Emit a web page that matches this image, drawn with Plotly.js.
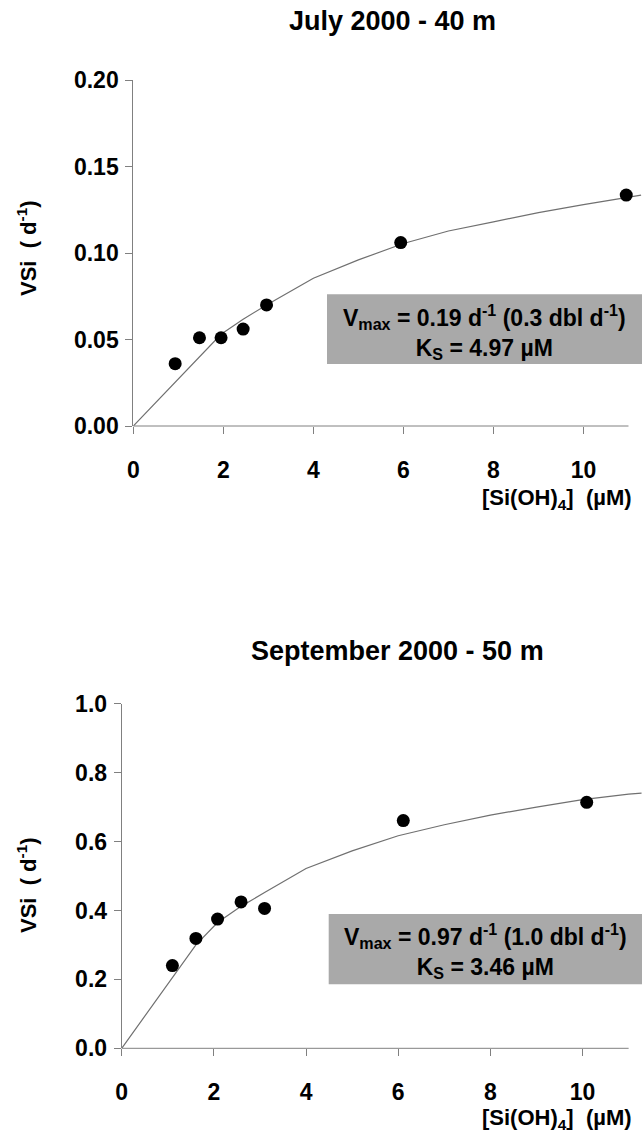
<!DOCTYPE html>
<html>
<head>
<meta charset="utf-8">
<script src="https://cdn.plot.ly/plotly-3.0.1.min.js"></script>
<style>html,body{margin:0;padding:0;background:#fff;}#chart{width:642px;height:1139px;}</style>
</head>
<body>
<div id="chart"></div>
<script>
// ---- Data ----
const julyTitle = "July 2000 - 40 m";
const septTitle = "September 2000 - 50 m";

const julySi   = [0.93, 1.47, 1.95, 2.44, 2.96, 5.94, 10.95];
const julyV    = [0.036, 0.051, 0.051, 0.056, 0.070, 0.106, 0.1335];
const julyFitSi = [0, 1.95, 2.44, 2.96, 4, 5, 6, 7, 8, 9, 10, 11, 11.28];
const julyFitV  = [0, 0.053, 0.0617, 0.0700, 0.0854, 0.096, 0.1055, 0.1127, 0.118, 0.1233, 0.128, 0.132, 0.1335];

const septSi   = [1.10, 1.61, 2.08, 2.59, 3.10, 6.11, 10.09];
const septV    = [0.240, 0.319, 0.375, 0.425, 0.406, 0.661, 0.714];
const septFitSi = [0, 1.61, 2.08, 2.59, 3.10, 4, 5, 6, 7, 8, 9, 10, 11, 11.28];
const septFitV  = [0, 0.300, 0.365, 0.412, 0.452, 0.522, 0.573, 0.617, 0.649, 0.677, 0.700, 0.722, 0.738, 0.741];

const julyTicksY = [0, 0.05, 0.10, 0.15, 0.20];
const septTicksY = [0, 0.2, 0.4, 0.6, 0.8, 1.0];
const ticksX = [0, 2, 4, 6, 8, 10];

const yTitle = "VSi  ( d<sup>-1</sup>)";
const xTitle = "[Si(OH)<sub>4</sub>]  (µM)";
const julyBox = "V<sub>max</sub> = 0.19 d<sup>-1</sup> (0.3 dbl d<sup>-1</sup>)<br>K<sub>S</sub> = 4.97 µM";
const septBox = "V<sub>max</sub> = 0.97 d<sup>-1</sup> (1.0 dbl d<sup>-1</sup>)<br>K<sub>S</sub> = 3.46 µM";

// ---- Layout geometry (pixels in a 642x1139 page) ----
const W = 642, H = 1139;
const FONT = '"Liberation Sans", Arial, Helvetica, sans-serif';
const px = v => v / W;
const py = v => 1 - v / H;

const axColor = '#808080';
const lineColor = '#707070';
const boxColor = '#a9a9a9';

function xAxis(anchor, left, xmax) {
  return {
    anchor: anchor, domain: [px(left), 1], range: [0, xmax],
    showline: false, showgrid: false, zeroline: false,
    ticks: 'outside', ticklen: 7, tickwidth: 1, tickcolor: axColor,
    tickvals: ticksX, ticklabelstandoff: 16,
    tickfont: {family: FONT, size: 23, color: '#000', weight: 'bold'}
  };
}
function yAxis(anchor, top, bottom, range, tv, fmt) {
  return {
    anchor: anchor, domain: [py(bottom), py(top)], range: range,
    showline: true, linecolor: axColor, linewidth: 1,
    showgrid: false, zeroline: false,
    ticks: 'outside', ticklen: 7, tickwidth: 1, tickcolor: axColor,
    tickvals: tv, tickformat: fmt, ticklabelstandoff: 2,
    tickfont: {family: FONT, size: 23, color: '#000', weight: 'bold'}
  };
}

// top panel
const T = {left: 133.3, top: 80, bottom: 426, xmax: 11.3, xend: 11};
// bottom panel
const B = {left: 121.7, top: 703.8, bottom: 1048.3, xmax: 11.29, xend: 11};

const traces = [
  {x: julyFitSi, y: julyFitV, xaxis: 'x', yaxis: 'y', mode: 'lines',
   line: {color: lineColor, width: 1.2}, hoverinfo: 'skip'},
  {x: julySi, y: julyV, xaxis: 'x', yaxis: 'y', mode: 'markers', cliponaxis: false,
   marker: {color: '#000', size: 13}},
  {x: septFitSi, y: septFitV, xaxis: 'x2', yaxis: 'y2', mode: 'lines',
   line: {color: lineColor, width: 1.2}, hoverinfo: 'skip'},
  {x: septSi, y: septV, xaxis: 'x2', yaxis: 'y2', mode: 'markers', cliponaxis: false,
   marker: {color: '#000', size: 13}}
];

function xLineShape(P) {
  const d0 = px(P.left), d1 = 1;
  const xe = d0 + (d1 - d0) * P.xend / P.xmax;
  return {type: 'line', xref: 'paper', yref: 'paper', x0: d0, x1: xe,
          y0: py(P.bottom), y1: py(P.bottom), line: {color: axColor, width: 1}, layer: 'above'};
}

const annFont = {family: FONT, size: 22, color: '#000', weight: 'bold'};
const boxFont = {family: FONT, size: 23, color: '#000', weight: 'bold'};

const layout = {
  width: W, height: H,
  margin: {l: 0, r: 0, t: 0, b: 0},
  paper_bgcolor: '#fff', plot_bgcolor: 'rgba(0,0,0,0)',
  showlegend: false,
  xaxis: xAxis('y', T.left, T.xmax),
  yaxis: yAxis('x', T.top, T.bottom, [0, 0.2], julyTicksY, '.2f'),
  xaxis2: xAxis('y2', B.left, B.xmax),
  yaxis2: yAxis('x2', B.top, B.bottom, [0, 1], septTicksY, '.1f'),
  shapes: [
    xLineShape(T), xLineShape(B),
    {type: 'rect', xref: 'paper', yref: 'paper', x0: px(327), x1: 1, y0: py(364), y1: py(294.3),
     fillcolor: boxColor, line: {width: 0}, layer: 'below'},
    {type: 'rect', xref: 'paper', yref: 'paper', x0: px(328.7), x1: 1, y0: py(984.3), y1: py(914),
     fillcolor: boxColor, line: {width: 0}, layer: 'below'}
  ],
  annotations: [
    {text: julyTitle, xref: 'paper', yref: 'paper', x: px(392), y: py(21), xanchor: 'center', yanchor: 'middle',
     showarrow: false, font: {family: FONT, size: 27, color: '#000', weight: 'bold'}},
    {text: septTitle, xref: 'paper', yref: 'paper', x: px(397), y: py(651), xanchor: 'center', yanchor: 'middle',
     showarrow: false, font: {family: FONT, size: 27, color: '#000', weight: 'bold'}},
    {text: yTitle, xref: 'paper', yref: 'paper', x: px(27), y: py(248), xanchor: 'center', yanchor: 'middle',
     textangle: -90, showarrow: false, font: annFont},
    {text: yTitle, xref: 'paper', yref: 'paper', x: px(27), y: py(885), xanchor: 'center', yanchor: 'middle',
     textangle: -90, showarrow: false, font: annFont},
    {text: xTitle, xref: 'paper', yref: 'paper', x: px(634), y: py(499), xanchor: 'right', yanchor: 'middle',
     showarrow: false, font: annFont},
    {text: xTitle, xref: 'paper', yref: 'paper', x: px(634), y: py(1119), xanchor: 'right', yanchor: 'middle',
     showarrow: false, font: annFont},
    {text: julyBox, xref: 'paper', yref: 'paper', x: px(484), y: py(332), xanchor: 'center', yanchor: 'middle',
     align: 'center', showarrow: false, font: boxFont},
    {text: septBox, xref: 'paper', yref: 'paper', x: px(485), y: py(951), xanchor: 'center', yanchor: 'middle',
     align: 'center', showarrow: false, font: boxFont}
  ]
};

Plotly.newPlot('chart', traces, layout, {staticPlot: true, displayModeBar: false});
</script>
</body>
</html>
